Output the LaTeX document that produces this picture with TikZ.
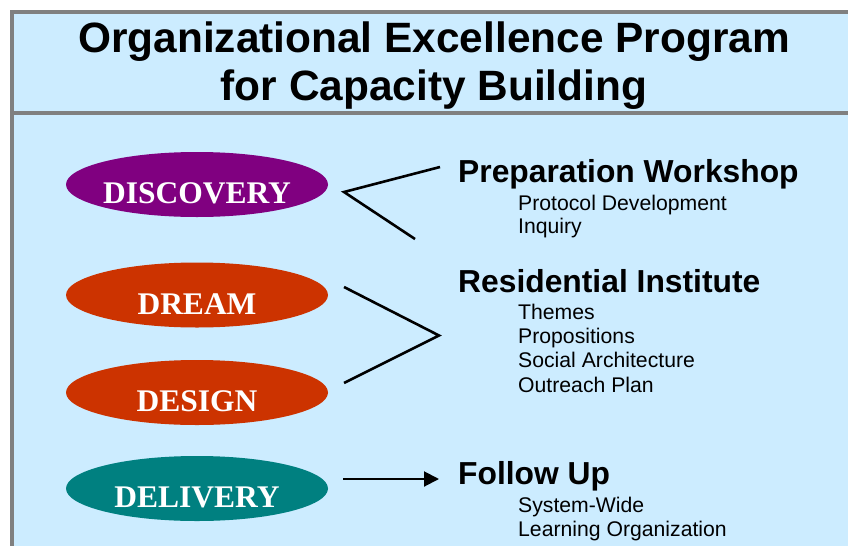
\documentclass[tikz,border=0pt]{standalone}
\usepackage{fontspec}
\setmainfont{Liberation Sans}
\newfontfamily\phasefont{Liberation Serif}
\usetikzlibrary{arrows.meta,positioning,calc,shapes.geometric}
\definecolor{slidebg}{HTML}{CCECFF}
\definecolor{framegray}{HTML}{808080}
\definecolor{discpurple}{HTML}{800080}
\definecolor{dreamred}{HTML}{CC3300}
\definecolor{delivteal}{HTML}{008080}
\tikzset{
    phaseoval/.style={ellipse, minimum width=262pt, minimum height=65pt, inner xsep=-12pt, inner ysep=0pt, text=white, font=\phasefont\bfseries\fontsize{31.5}{36}\selectfont, text height=38pt, text depth=0pt},
    titleline/.style={anchor=base, inner sep=0pt, font=\bfseries\fontsize{42.4}{48}\selectfont},
    stagehead/.style={anchor=base west, inner sep=0pt, font=\bfseries\fontsize{31.8}{36}\selectfont},
    stageitem/.style={anchor=base west, inner sep=0pt, font=\fontsize{21.2}{24}\selectfont},
    bracketline/.style={line width=2.6pt},
    flowarrow/.style={-{Triangle[length=15pt, width=15pt]}, line width=2pt}
}
\begin{document}
\begin{tikzpicture}[x=1pt, y=-1pt]
    \useasboundingbox (0,0) rectangle (848,546);
    % slide frame
    \fill[slidebg] (12,12) rectangle (848,546);
    \draw[framegray, line width=4pt] (848,11.5) -- (12,11.5) -- (12,546);
    \draw[framegray, line width=4pt] (12,113) -- (848,113);
    \node[titleline] (title1) at (434,52) {Organizational Excellence Program};
    \node[titleline] (title2) at (434,100) {for Capacity Building};
    % phases
    \node[phaseoval, fill=discpurple] (discovery) at (197,184.5) {DISCOVERY};
    \node[phaseoval, fill=dreamred] (dream) at (197,295) {DREAM};
    \node[phaseoval, fill=dreamred] (design) at (197,392.5) {DESIGN};
    \node[phaseoval, fill=delivteal] (delivery) at (197,488.5) {DELIVERY};
    % stages
    \node[stagehead] (prep) at (458,182) {Preparation Workshop};
    \node[stageitem] (protocol) at (518,210) {Protocol Development};
    \node[stageitem] (inquiry) at (518,233.5) {Inquiry};
    \node[stagehead] (resid) at (458,292) {Residential Institute};
    \foreach \txt [count=\i] in {Themes, Propositions, Social Architecture, Outreach Plan}
        \node[stageitem] (resitem\i) at (518,{319+24.4*(\i-1)}) {\txt};
    \node[stagehead] (follow) at (458,484) {Follow Up};
    \node[stageitem] (systemwide) at (518,512) {System-Wide};
    \node[stageitem] (learning) at (518,536) {Learning Organization};
    % connectors
    \coordinate (disctop) at (440,167);
    \coordinate (discapex) at (344,192);
    \coordinate (discbot) at (415,239);
    \draw[bracketline] (disctop) -- (discapex) -- (discbot);
    \coordinate (dreamend) at (344,287);
    \coordinate (resapex) at (439,335.5);
    \coordinate (designend) at (344,383);
    \draw[bracketline] (dreamend) -- (resapex) -- (designend);
    \coordinate (delivout) at (343,479);
    \coordinate (followin) at (439,479);
    \draw[flowarrow] (delivout) -- (followin);
\end{tikzpicture}
\end{document}
